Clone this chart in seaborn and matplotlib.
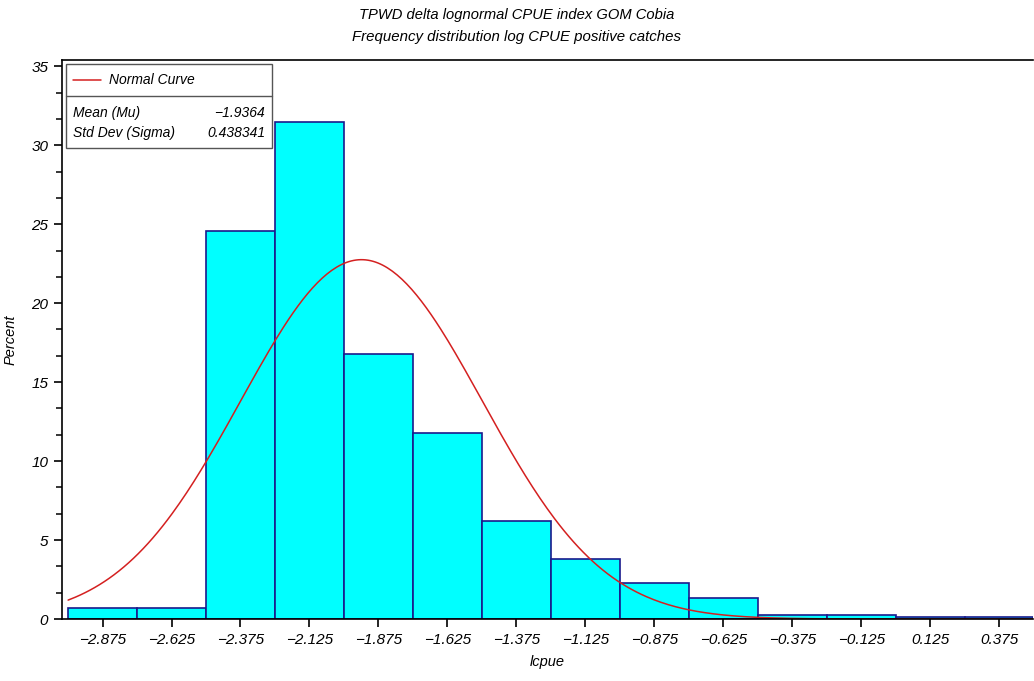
import numpy as np
import pandas as pd
import seaborn as sns
import matplotlib.pyplot as plt
from matplotlib.ticker import MultipleLocator, FixedLocator
from matplotlib.patches import Rectangle
from matplotlib.lines import Line2D

sns.set_style('ticks')
plt.rcParams['font.family'] = ['Liberation Sans', 'DejaVu Sans']
plt.rcParams['font.style'] = 'italic'
plt.rcParams['text.color'] = 'black'
plt.rcParams['axes.labelcolor'] = 'black'
plt.rcParams['xtick.color'] = 'black'
plt.rcParams['ytick.color'] = 'black'
plt.rcParams['axes.edgecolor'] = 'black'

# histogram of log CPUE (percent per bin), bin midpoints
midpoints = [-2.875, -2.625, -2.375, -2.125, -1.875, -1.625, -1.375,
             -1.125, -0.875, -0.625, -0.375, -0.125, 0.125, 0.375]
percent = [0.7, 0.7, 24.6, 31.5, 16.8, 11.8, 6.2,
           3.8, 2.3, 1.3, 0.25, 0.25, 0.13, 0.13]
mu = -1.9364
sigma = 0.438341
bin_width = 0.25

df = pd.DataFrame({'lcpue': midpoints, 'pct': percent})

fig = plt.figure(figsize=(10.34, 6.81), dpi=100)
ax = fig.add_axes([0.06, 0.091, 0.9395, 0.821])

sns.histplot(data=df, x='lcpue', weights='pct', binwidth=bin_width,
             binrange=(-3.0, 0.5), ax=ax,
             color='#00FFFF', edgecolor='#1a1a8c', linewidth=1.2, alpha=1)

# fitted normal curve scaled to percent per bin
xs = np.linspace(-3.0, 0.5, 400)
ys = 100 * bin_width * np.exp(-0.5 * ((xs - mu) / sigma) ** 2) / (sigma * np.sqrt(2 * np.pi))
sns.lineplot(x=xs, y=ys, ax=ax, color='#d42020', linewidth=1.1)

ax.set_xlim(-3.022, 0.5)
ax.set_ylim(0, 35.4)
ax.xaxis.set_major_locator(FixedLocator(midpoints))
ax.set_xticklabels([f'{m:.3f}'.replace('-', '\u2212') for m in midpoints])
ax.yaxis.set_major_locator(MultipleLocator(5))
ax.yaxis.set_minor_locator(MultipleLocator(5 / 3))
ax.tick_params(axis='both', which='major', length=6, width=1.2, labelsize=11)
ax.tick_params(axis='y', which='major', pad=4)
ax.tick_params(axis='y', which='minor', length=4, width=1.1)
ax.tick_params(axis='x', which='major', pad=4)
for s in ['left', 'bottom', 'top']:
    ax.spines[s].set_linewidth(1.2)
ax.spines['right'].set_visible(False)

ax.set_xlabel('lcpue', fontsize=10.5, labelpad=6)
ax.set_ylabel('Percent', fontsize=10.5)
ax.yaxis.set_label_coords(-0.046, 0.5)

fig.text(0.5, 0.978, 'TPWD delta lognormal CPUE index GOM Cobia', ha='center',
         va='center', fontsize=10.6)
fig.text(0.5, 0.946, 'Frequency distribution log CPUE positive catches', ha='center',
         va='center', fontsize=10.8)

# inset legend / statistics box
tr = ax.transAxes
ax.add_patch(Rectangle((0.004, 0.843), 0.212, 0.15, transform=tr, facecolor='white',
                       edgecolor='#555555', linewidth=1, zorder=5))
ax.add_line(Line2D([0.004, 0.216], [0.936, 0.936], transform=tr, color='#555555',
                   linewidth=1, zorder=6))
ax.add_line(Line2D([0.011, 0.040], [0.964, 0.964], transform=tr, color='#d42020',
                   linewidth=1.1, zorder=6))
ax.text(0.048, 0.964, 'Normal Curve', transform=tr, va='center', fontsize=10, zorder=7)
ax.text(0.011, 0.905, 'Mean (Mu)', transform=tr, va='center', fontsize=10, zorder=7)
ax.text(0.209, 0.905, '\u22121.9364', transform=tr, va='center', ha='right', fontsize=10, zorder=7)
ax.text(0.011, 0.869, 'Std Dev (Sigma)', transform=tr, va='center', fontsize=10, zorder=7)
ax.text(0.209, 0.869, '0.438341', transform=tr, va='center', ha='right', fontsize=10, zorder=7)

fig.savefig('out.png', dpi=100)
